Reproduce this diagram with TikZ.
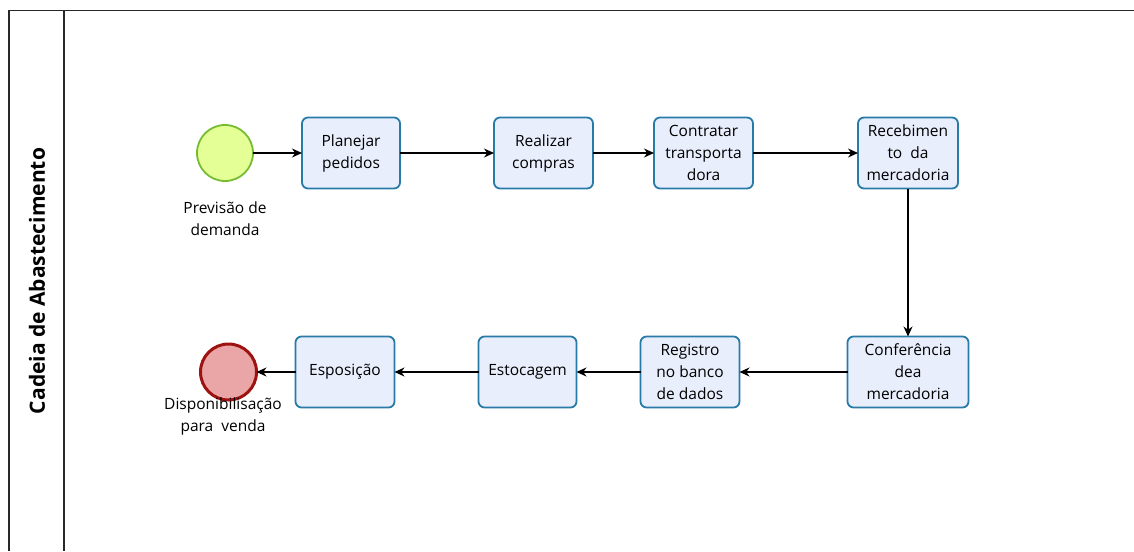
\documentclass[tikz,border=0pt]{standalone}
\usepackage{fontspec}
\setmainfont{Open Sans}
\definecolor{taskfill}{RGB}{233, 238, 252}
\definecolor{taskline}{RGB}{40, 123, 166}
\definecolor{startfill}{RGB}{228, 255, 150}
\definecolor{startline}{RGB}{118, 188, 48}
\definecolor{endfill}{RGB}{234, 166, 166}
\definecolor{endline}{RGB}{158, 18, 18}
\definecolor{poolline}{RGB}{40, 40, 40}
\usetikzlibrary{
  arrows.meta,
  positioning,
}
\tikzset{
  >={Stealth[length=10pt,width=9pt]},
  task/.style={draw=taskline,line width=1.8pt,fill=taskfill,rectangle,rounded corners=6pt,
    minimum height=71pt,align=center,inner sep=1pt,outer sep=0pt,
    font=\fontsize{15.5}{22}\selectfont},
  startev/.style={draw=startline,line width=1.8pt,fill=startfill,circle,minimum size=56pt,inner sep=0pt,outer sep=0pt},
  endev/.style={draw=endline,line width=3pt,fill=endfill,circle,minimum size=56pt,inner sep=0pt,outer sep=0pt},
  evlabel/.style={align=center,font=\fontsize{15.5}{22}\selectfont},
  flow/.style={->,line width=1.1pt},
}

\begin{document}
\begin{tikzpicture}[x=1pt,y=-1pt]

        \useasboundingbox (0,0) rectangle (1134,551);

        % pool and lane
        \draw[poolline,line width=1.2pt] (1134,10.5) -- (9,10.5) -- (9,551);
        \draw[poolline,line width=1.2pt] (64,10.5) -- (64,551);
        \node[rotate=90,font=\fontsize{21}{25}\selectfont\bfseries]    (pool)    at (37,281)   {Cadeia de Abastecimento};

        % first row
        \node[startev]    (start)    at (225,153)   {};
        \node[task,minimum width=98pt]    (plan)     [right=49pt of start]   {Planejar\\pedidos};
        \node[task,minimum width=99pt]    (comp)     [right=94pt of plan]   {Realizar\\compras};
        \node[task,minimum width=99pt]    (transp)   [right=61pt of comp]   {Contratar\\transporta\\dora};
        \node[task,minimum width=100pt]   (receb)    [right=105pt of transp]   {Recebimen\\to\ \ da\\mercadoria};

        % second row
        \node[task,minimum width=121pt]   (conf)     [below=148pt of receb]   {Conferência\\dea\\mercadoria};
        \node[task,minimum width=99pt]    (reg)      [left=108pt of conf]   {Registro\\no banco\\de dados};
        \node[task,minimum width=98pt]    (estoc)    [left=64pt of reg]   {Estocagem};
        \node[task,minimum width=99pt]    (espos)    [left=84pt of estoc]   {Esposição};
        \node[endev]      (fim)      [left=39pt of espos]   {};

        \node[evlabel]    (startlbl)  at (225,219)   {Previsão de\\demanda};
        \node[evlabel]    (fimlbl)    at (223,416)   {Disponibilisação\\para\ \ venda};

        \draw[flow] (start) -- (plan);
        \draw[flow] (plan) -- (comp);
        \draw[flow] (comp) -- (transp);
        \draw[flow] (transp) -- (receb);
        \draw[flow] (receb) -- (conf);
        \draw[flow] (conf) -- (reg);
        \draw[flow] (reg) -- (estoc);
        \draw[flow] (estoc) -- (espos);
        \draw[flow] (espos) -- (fim);

    \end{tikzpicture}
\end{document}
